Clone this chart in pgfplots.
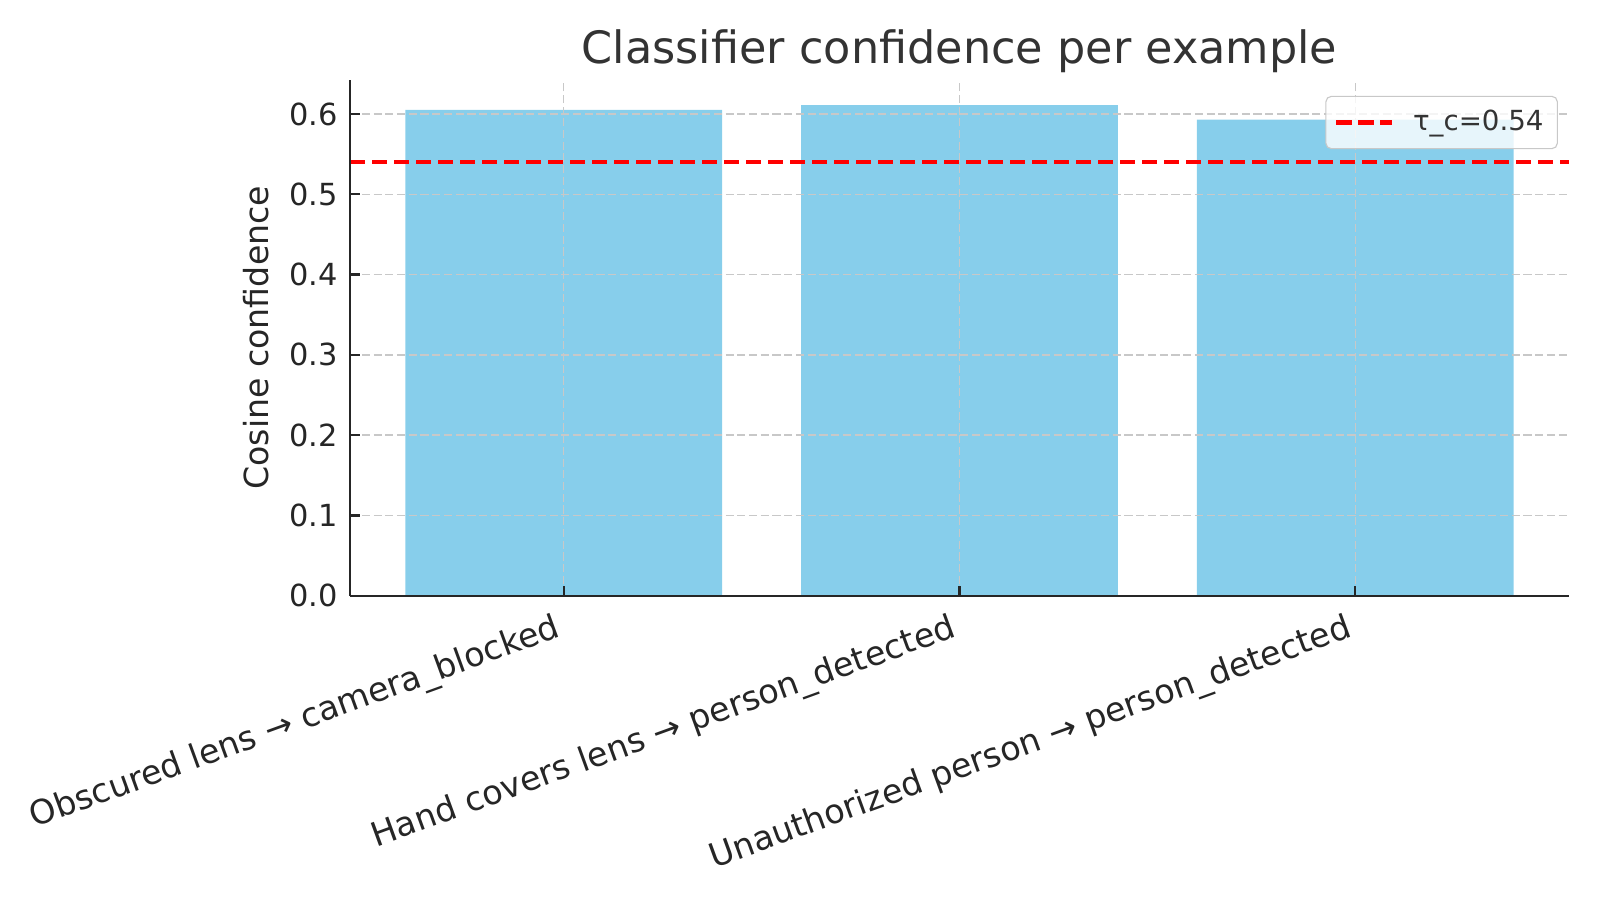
\documentclass[border=0pt]{standalone}
\usepackage{pgfplots}
\pgfplotsset{compat=1.18}
\usepackage{fontspec}
\setmainfont{DejaVu Sans}
\definecolor{skyblue}{HTML}{87CEEB}
\definecolor{txt}{HTML}{262626}
\definecolor{ttl}{HTML}{333333}
\definecolor{gridc}{HTML}{C8C8C8}
\begin{document}
\begin{tikzpicture}
\path[use as bounding box] (-126.5pt,-109.85pt) rectangle (451.7pt,215.3pt);
\begin{axis}[
  at={(0,0)}, anchor=south west,
  scale only axis, width=440.5pt, height=186.5pt,
  xmin=-0.54, xmax=2.54, ymin=0, ymax=0.6426,
  axis lines*=left,
  axis line style={line width=0.8pt, color=txt},
  axis on top=true,
  xtick={0,1,2},
  xticklabels={Obscured lens → camera\textunderscore blocked, Hand covers lens → person\textunderscore detected, Unauthorized person → person\textunderscore detected},
  ytick={0,0.1,0.2,0.3,0.4,0.5,0.6},
  /pgf/number format/fixed, /pgf/number format/fixed zerofill, /pgf/number format/precision=1,
  /pgf/number format/assume math mode=true,
  tick label style={font=\fontsize{11}{13}\selectfont, color=txt},
  xticklabel style={font=\fontsize{12.1}{14}\selectfont, rotate=20, anchor=north east, inner sep=2pt, yshift=-2pt, xshift=-3.5pt},
  yticklabel style={xshift=-1pt},
  tick align=inside, major tick length=3.5pt,
  tick style={line width=0.8pt, color=txt},
  xmajorgrids, ymajorgrids,
  grid style={gridc, line width=0.5pt, dash pattern=on 2.96pt off 1.28pt},
  ylabel={Cosine confidence},
  ylabel style={font=\fontsize{12}{14}\selectfont, color=txt, xshift=0pt, yshift=0.5pt},
  title={Classifier confidence per example},
  title style={font=\fontsize{16.1}{19}\selectfont, color=ttl, yshift=-7pt},
  legend style={at={(1,1)}, anchor=north east, xshift=-4pt, yshift=-5.8pt,
    draw=gridc, rounded corners=2pt, fill=white, fill opacity=0.8, text opacity=1,
    font=\fontsize{10}{12}\selectfont, text=ttl, inner sep=3pt},
  legend image code/.code={\draw[#1] (0pt,0pt) -- (20pt,0pt); \path (25pt,0pt);},
  legend cell align=left,
]
\addplot[ybar, bar width=0.8, fill=skyblue, draw=none, forget plot] coordinates {(0,0.605) (1,0.611) (2,0.593)};
\addplot[red, line width=1.5pt, dash pattern=on 5.55pt off 2.4pt] coordinates {(-0.54,0.54) (2.54,0.54)};
\addlegendentry{τ\textunderscore c=0.54}
\end{axis}
\end{tikzpicture}
\end{document}
